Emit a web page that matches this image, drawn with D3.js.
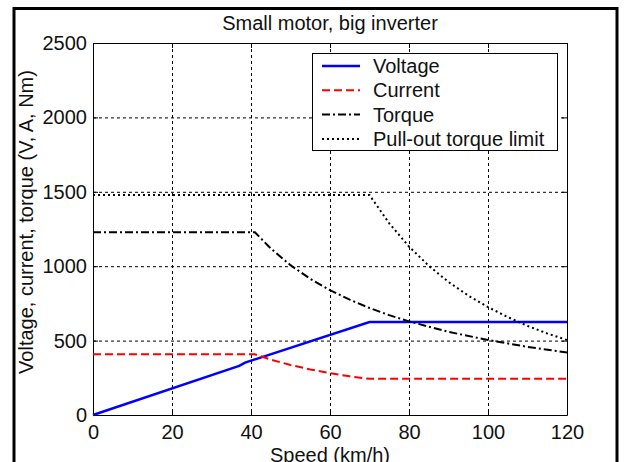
<!DOCTYPE html>
<html>
<head>
<meta charset="utf-8">
<script src="https://cdn.jsdelivr.net/npm/d3@7"></script>
<style>
  body { margin: 0; background: white; }
  svg { display: block; }
  text { font-family: "Liberation Sans", Arial, sans-serif; fill: #111; }
</style>
</head>
<body>
<main></main>
<script>
// series (speed in km/h)
const speedV = [0, 37, 38.5, 70, 120];
const voltage = [0, 330, 352, 625, 625];

const speedI = [0, 41, 45, 50, 55, 60, 65, 70, 120];
const current = [408, 408, 372, 336, 306, 281, 260, 243, 243];

const speedT = [0, 41, 45, 50, 55, 60, 65, 70, 75, 80, 90, 100, 110, 120];
const torque = [1228, 1228, 1119, 1007, 915, 839, 775, 719, 671, 629, 559, 504, 458, 420];

const speedP = [0, 70, 75, 80, 85, 90, 95, 100, 105, 110, 115, 120];
const pullout = [1478, 1478, 1288, 1132, 1003, 894, 803, 725, 658, 599, 548, 504];

const xTicks = [0, 20, 40, 60, 80, 100, 120];
const yTicks = [0, 500, 1000, 1500, 2000, 2500];
const legendLabels = ['Voltage', 'Current', 'Torque', 'Pull-out torque limit'];

const width = 624;
const height = 462;
const plotLeft = 93, plotRight = 567, plotTop = 43, plotBottom = 415;
const fontSize = '20px';

const series = [
  { xs: speedV, ys: voltage, color: '#0000ff', dash: null, w: 2.5 },
  { xs: speedI, ys: current, color: '#ff0000', dash: '8,4', w: 2 },
  { xs: speedT, ys: torque, color: '#000000', dash: '8,3,2,3', w: 2 },
  { xs: speedP, ys: pullout, color: '#000000', dash: '2,3', w: 2 }
];

const xScale = d3.scaleLinear().domain([0, 120]).range([plotLeft, plotRight]);
const yScale = d3.scaleLinear().domain([0, 2500]).range([plotBottom, plotTop]);

const svg = d3.select('main')
  .append('svg')
  .attr('width', width)
  .attr('height', height)

// figure frame
svg.append('rect')
  .attr('x', 14)
  .attr('y', 8.5)
  .attr('width', 603)
  .attr('height', 500)
  .attr('fill', 'none')
  .attr('stroke', '#000')
  .attr('stroke-width', 3)

// grid
svg.append('g')
  .selectAll('line')
  .data(xTicks.slice(1, -1))
  .enter()
  .append('line')
  .attr('x1', d => xScale(d) + 0.5)
  .attr('x2', d => xScale(d) + 0.5)
  .attr('y1', plotTop)
  .attr('y2', plotBottom)
  .attr('stroke', '#000')
  .attr('stroke-dasharray', '3,3')

svg.append('g')
  .selectAll('line')
  .data(yTicks.slice(1, -1))
  .enter()
  .append('line')
  .attr('x1', plotLeft)
  .attr('x2', plotRight)
  .attr('y1', d => yScale(d) + 0.5)
  .attr('y2', d => yScale(d) + 0.5)
  .attr('stroke', '#000')
  .attr('stroke-dasharray', '3,3')

// axes, ticks pointing inward
const axisStyle = g => {
  g.selectAll('path, line').attr('stroke', '#000')
  g.selectAll('text')
    .style('font-size', fontSize)
    .style('font-family', '"Liberation Sans", Arial, sans-serif')
    .attr('fill', '#111')
}

svg.append('g')
  .attr('transform', `translate(0, ${plotBottom})`)
  .call(d3.axisBottom(xScale).tickValues(xTicks).tickSize(-5).tickSizeOuter(0).tickPadding(10).tickFormat(d3.format('d')))
  .call(axisStyle)

svg.append('g')
  .attr('transform', `translate(${plotLeft}, 0)`)
  .call(d3.axisLeft(yScale).tickValues(yTicks).tickSize(-5).tickSizeOuter(0).tickPadding(6).tickFormat(d3.format('d')))
  .call(axisStyle)

svg.append('g')
  .attr('transform', `translate(0, ${plotTop})`)
  .call(d3.axisTop(xScale).tickValues(xTicks).tickSize(-5).tickSizeOuter(0).tickFormat(''))
  .call(axisStyle)

svg.append('g')
  .attr('transform', `translate(${plotRight}, 0)`)
  .call(d3.axisRight(yScale).tickValues(yTicks).tickSize(-5).tickSizeOuter(0).tickFormat(''))
  .call(axisStyle)

// lines
const line = d3.line()
  .x(d => xScale(d[0]))
  .y(d => yScale(d[1]))

series.forEach(s => {
  svg.append('path')
    .datum(s.xs.map((x, i) => [x, s.ys[i]]))
    .attr('d', line)
    .attr('fill', 'none')
    .attr('stroke', s.color)
    .attr('stroke-width', s.w)
    .attr('stroke-dasharray', s.dash)
})

// legend
const legend = svg.append('g')

legend.append('rect')
  .attr('x', 312.5)
  .attr('y', 53.5)
  .attr('width', 245)
  .attr('height', 97)
  .attr('fill', 'white')
  .attr('stroke', '#000')

legendLabels.forEach((label, i) => {
  const ly = 66 + i * 24.3;
  legend.append('line')
    .attr('x1', 322)
    .attr('x2', 360)
    .attr('y1', ly)
    .attr('y2', ly)
    .attr('stroke', series[i].color)
    .attr('stroke-width', series[i].w)
    .attr('stroke-dasharray', series[i].dash)
  legend.append('text')
    .text(label)
    .attr('x', 373)
    .attr('y', ly + 7)
    .style('font-size', fontSize)
})

// title and axis labels
svg.append('text')
  .text('Small motor, big inverter')
  .attr('x', (plotLeft + plotRight) / 2)
  .attr('y', 30)
  .attr('text-anchor', 'middle')
  .style('font-size', fontSize)

svg.append('text')
  .text('Voltage, current, torque (V, A, Nm)')
  .attr('transform', `translate(33, 222) rotate(-90)`)
  .attr('text-anchor', 'middle')
  .style('font-size', fontSize)

svg.append('text')
  .text('Speed (km/h)')
  .attr('x', (plotLeft + plotRight) / 2)
  .attr('y', 462)
  .attr('text-anchor', 'middle')
  .style('font-size', fontSize)
</script>
</body>
</html>
